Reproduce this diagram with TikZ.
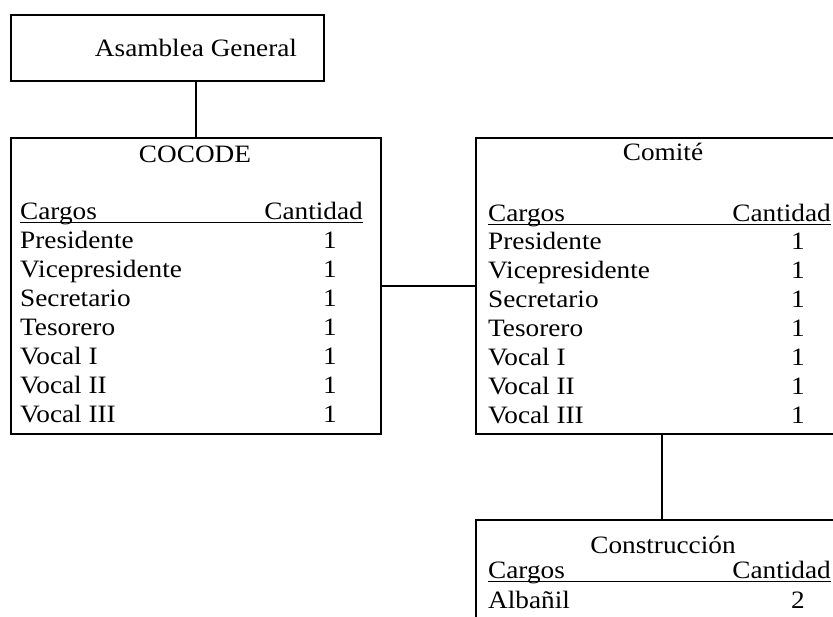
\documentclass[tikz,border=0pt]{standalone}
\usepackage{fontspec}
\setmainfont{Liberation Serif}[FakeStretch=1.09]
\begin{document}
\begin{tikzpicture}[x=1pt,y=-1pt,
  box/.style={draw, line width=1.8pt, inner sep=0pt, anchor=north west},
  txt/.style={inner sep=0pt, font=\fontsize{25}{29}\selectfont},
  lnk/.style={line width=1.8pt},
  uline/.style={line width=1pt}]
\useasboundingbox (0,0) rectangle (833,617);
\clip (0,0) rectangle (833,617);
% boxes
\node[box, minimum width=313pt, minimum height=66pt] (asamblea) at (10,14) {};
\node[box, minimum width=370pt, minimum height=296pt] (cocode) at (10,137) {};
\node[box, minimum width=372pt, minimum height=296pt] (comite) at (475,137) {};
\node[box, minimum width=372pt, minimum height=140pt] (constr) at (475,519) {};
% connectors
\draw[lnk] (cocode.north |- asamblea.south) -- (cocode.north);
\draw[lnk] (cocode.east) -- (comite.west);
\draw[lnk] (comite.south) -- (constr.north);
% Asamblea
\node[txt, anchor=base] (tasamblea) at (196,57) {Asamblea General};
% COCODE
\node[txt, anchor=base] (tcocode) at (195,163) {COCODE};
\node[txt, anchor=base west] (ccargos) at (20,220) {Cargos};
\node[txt, anchor=base east] (ccant) at (363,220) {Cantidad};
\draw[uline] (ccargos.base west) ++(0,3) coordinate (cu1) -- (cu1 -| ccant.base east);
\foreach \n [count=\i] in {Presidente,Vicepresidente,Secretario,Tesorero,Vocal I,Vocal II,Vocal III} {
  \node[txt, anchor=base west] (cpos\i) at (20,{249+29*(\i-1)}) {\n};
  \node[txt, anchor=base] (cnum\i) at (330,{249+29*(\i-1)}) {1};
}
% Comite
\node[txt, anchor=base] (tcomite) at (663,161) {Comité};
\node[txt, anchor=base west] (mcargos) at (488,222) {Cargos};
\node[txt, anchor=base east] (mcant) at (831,222) {Cantidad};
\draw[uline] (mcargos.base west) ++(0,3) coordinate (mu1) -- (mu1 -| mcant.base east);
\foreach \n [count=\i] in {Presidente,Vicepresidente,Secretario,Tesorero,Vocal I,Vocal II,Vocal III} {
  \node[txt, anchor=base west] (mpos\i) at (488,{250+29*(\i-1)}) {\n};
  \node[txt, anchor=base] (mnum\i) at (798,{250+29*(\i-1)}) {1};
}
% Construccion
\node[txt, anchor=base] (tconstr) at (663,553) {Construcción};
\node[txt, anchor=base west] (kcargos) at (488,578) {Cargos};
\node[txt, anchor=base east] (kcant) at (831,578) {Cantidad};
\draw[uline] (kcargos.base west) ++(0,3) coordinate (ku1) -- (ku1 -| kcant.base east);
\node[txt, anchor=base west] (kpos1) at (488,608) {Albañil};
\node[txt, anchor=base] (knum1) at (798,608) {2};
\end{tikzpicture}
\end{document}
